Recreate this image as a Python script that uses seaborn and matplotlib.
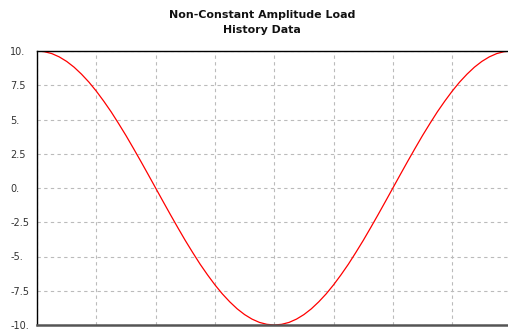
import numpy as np
import pandas as pd
import matplotlib
matplotlib.use("Agg")
import matplotlib.pyplot as plt
import seaborn as sns

# Load history: step index and load value
steps = [0.0, 0.125, 0.25, 0.375, 0.5, 0.625, 0.75, 0.875,
         1.0, 1.125, 1.25, 1.375, 1.5, 1.625, 1.75, 1.875,
         2.0, 2.125, 2.25, 2.375, 2.5, 2.625, 2.75, 2.875,
         3.0, 3.125, 3.25, 3.375, 3.5, 3.625, 3.75, 3.875,
         4.0, 4.125, 4.25, 4.375, 4.5, 4.625, 4.75, 4.875,
         5.0, 5.125, 5.25, 5.375, 5.5, 5.625, 5.75, 5.875,
         6.0, 6.125, 6.25, 6.375, 6.5, 6.625, 6.75, 6.875,
         7.0, 7.125, 7.25, 7.375, 7.5, 7.625, 7.75, 7.875, 8.0]
load = [10.0, 9.95, 9.81, 9.57, 9.24, 8.82, 8.31, 7.73,
        7.07, 6.34, 5.56, 4.71, 3.83, 2.90, 1.95, 0.98,
        0.0, -0.98, -1.95, -2.90, -3.83, -4.71, -5.56, -6.34,
        -7.07, -7.73, -8.31, -8.82, -9.24, -9.57, -9.81, -9.95,
        -10.0, -9.95, -9.81, -9.57, -9.24, -8.82, -8.31, -7.73,
        -7.07, -6.34, -5.56, -4.71, -3.83, -2.90, -1.95, -0.98,
        0.0, 0.98, 1.95, 2.90, 3.83, 4.71, 5.56, 6.34,
        7.07, 7.73, 8.31, 8.82, 9.24, 9.57, 9.81, 9.95, 10.0]
y_ticks = [10, 7.5, 5, 2.5, 0, -2.5, -5, -7.5, -10]
y_tick_labels = ["10.", "7.5", "5.", "2.5", "0.", "-2.5", "-5.", "-7.5", "-10."]
x_grid = [0, 1, 2, 3, 4, 5, 6, 7, 8]

df = pd.DataFrame({"step": steps, "load": load})

sns.set_style("white")
plt.rcParams["font.family"] = ["DejaVu Sans"]

W, H = 508, 331
fig = plt.figure(figsize=(W / 100, H / 100), dpi=100)
ax = fig.add_axes([37 / W, 1 - 325 / H, (511.5 - 37) / W, (325 - 51) / H])

sns.lineplot(data=df, x="step", y="load", color="#ff0000", linewidth=0.9, ax=ax)

ax.set_xlim(0, 8)
ax.set_ylim(-10, 10)
ax.set_xticks(x_grid)
ax.set_xticklabels([])
ax.set_yticks(y_ticks)
ax.set_yticklabels(y_tick_labels)
ax.set_xlabel("")
ax.set_ylabel("")

ax.grid(True, color="#bbbbbb", linestyle=(0, (3, 3)), linewidth=0.8)
ax.set_axisbelow(True)

for side in ["left", "top"]:
    ax.spines[side].set_color("black")
    ax.spines[side].set_linewidth(1.0)
ax.spines["right"].set_visible(False)
ax.spines["bottom"].set_color("#555555")
ax.spines["bottom"].set_linewidth(1.8)

ax.tick_params(axis="x", length=0)
ax.tick_params(axis="y", length=4.3, width=0.8, color="#888888",
               labelsize=7, labelcolor="#333333", pad=15)
for lbl in ax.get_yticklabels():
    lbl.set_horizontalalignment("left")

fig.text(262 / W, 1 - 15 / H, "Non-Constant Amplitude Load", ha="center", va="center",
         fontsize=7.9, fontweight="bold", color="#111111")
fig.text(262 / W, 1 - 30 / H, "History Data", ha="center", va="center",
         fontsize=7.9, fontweight="bold", color="#111111")

fig.savefig("out.png", dpi=100)
